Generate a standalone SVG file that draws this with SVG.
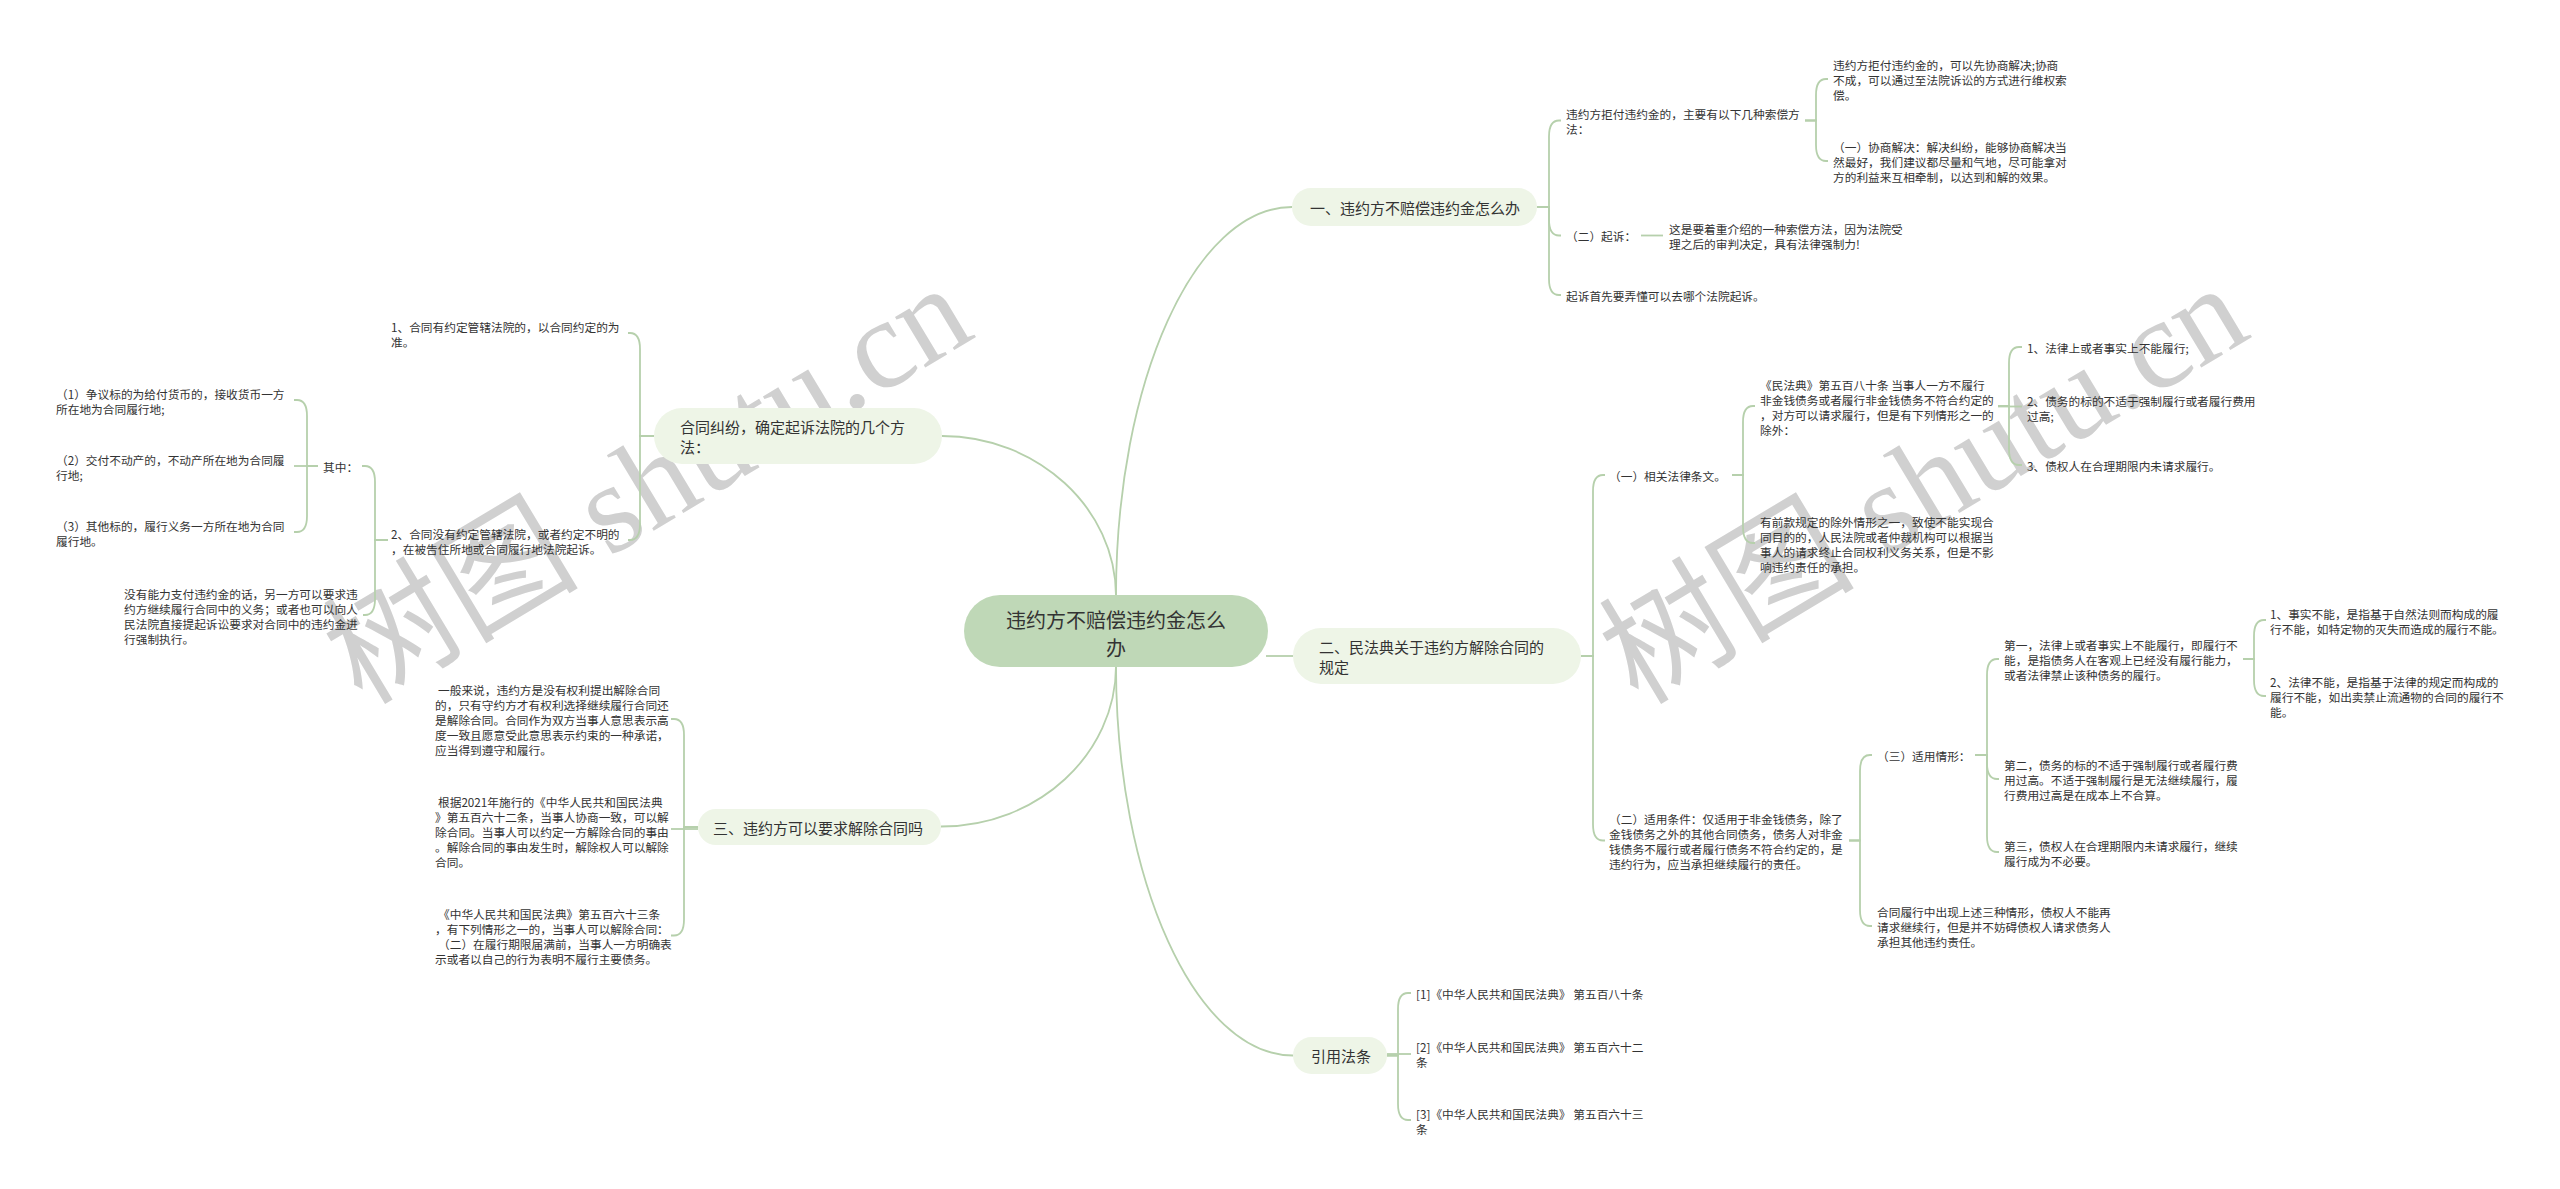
<svg xmlns="http://www.w3.org/2000/svg" width="2560" height="1189" viewBox="0 0 2560 1189">
<style>
text{font-family:"Noto Sans CJK SC","Noto Sans",sans-serif;fill:#333;dominant-baseline:central}
.t12{font-size:11.7px}
.t15{font-size:15px}
.t20{font-size:20px}
.root{fill:#bfd8b7}
.br{fill:#eef5e7}
.lk{fill:none;stroke:#b6d0ac;stroke-width:1.8}
.wm{font-family:"Liberation Serif","Noto Sans CJK SC",serif;font-size:128px;fill:#d0d0d0;dominant-baseline:alphabetic}
</style>
<rect width="2560" height="1189" fill="#ffffff"/>
<g id="watermark">
<text class="wm" transform="translate(362,706) rotate(-31)">树图 shutu.cn</text>
<text class="wm" transform="translate(1638,706) rotate(-31)">树图 shutu.cn</text>
</g>
<g id="connectors">
<path class="lk" d="M1116 596 C1116 381 1195 207 1292 207"/>
<path class="lk" d="M1116 596 C1116 508 1037 436 942 436"/>
<path class="lk" d="M1116 666 C1116 754 1038 826.5 941 826.5"/>
<path class="lk" d="M1116 666 C1116 881 1196 1055.5 1293 1055.5"/>
<path class="lk" d="M1266 656 H1293"/>
<path class="lk" d="M1537 207 H1549 V136.5 Q1549 120.5 1559 120.5 H1561"/>
<path class="lk" d="M1537 207 H1549 V219.5 Q1549 235.5 1559 235.5 H1561"/>
<path class="lk" d="M1537 207 H1549 V279 Q1549 295 1559 295 H1561"/>
<path class="lk" d="M1805 120.5 H1816 V95 Q1816 79 1826 79 H1828"/>
<path class="lk" d="M1805 120.5 H1816 V145 Q1816 161 1826 161 H1828"/>
<path class="lk" d="M1641 235.5 H1663"/>
<path class="lk" d="M1581 656 H1593 V491 Q1593 475 1603 475 H1605"/>
<path class="lk" d="M1581 656 H1593 V824.5 Q1593 840.5 1603 840.5 H1605"/>
<path class="lk" d="M1732 475 H1743 V422 Q1743 406 1753 406 H1755"/>
<path class="lk" d="M1732 475 H1743 V527 Q1743 543 1753 543 H1755"/>
<path class="lk" d="M1998 406 H2009 V363 Q2009 347 2019 347 H2022"/>
<path class="lk" d="M1998 406.5 H2022"/>
<path class="lk" d="M1998 406 H2009 V449 Q2009 465 2019 465 H2022"/>
<path class="lk" d="M1849 840.5 H1860 V771 Q1860 755 1870 755 H1872"/>
<path class="lk" d="M1849 840.5 H1860 V910 Q1860 926 1870 926 H1872"/>
<path class="lk" d="M1975 755 H1987 V675 Q1987 659 1997 659 H1999"/>
<path class="lk" d="M1975 755 H1987 V763 Q1987 779 1997 779 H1999"/>
<path class="lk" d="M1975 755 H1987 V836 Q1987 852 1997 852 H1999"/>
<path class="lk" d="M2243 659 H2254 V636 Q2254 620 2264 620 H2266"/>
<path class="lk" d="M2243 659 H2254 V680 Q2254 696 2264 696 H2266"/>
<path class="lk" d="M1387 1055.5 H1398 V1009 Q1398 993 1408 993 H1411"/>
<path class="lk" d="M1387 1054 H1411"/>
<path class="lk" d="M1387 1055.5 H1398 V1104 Q1398 1120 1408 1120 H1411"/>
<path class="lk" d="M654 436 H640 V349 Q640 333 630 333 H628"/>
<path class="lk" d="M654 436 H640 V524 Q640 540 630 540 H628"/>
<path class="lk" d="M388 540 H375 V482 Q375 466 365 466 H362"/>
<path class="lk" d="M388 540 H375 V599 Q375 615 365 615 H363"/>
<path class="lk" d="M318 466 H307 V416 Q307 400 297 400 H294"/>
<path class="lk" d="M318 466 H294"/>
<path class="lk" d="M318 466 H307 V516 Q307 532 297 532 H294"/>
<path class="lk" d="M698 827 H684 V735 Q684 719 674 719 H671"/>
<path class="lk" d="M698 829 H671"/>
<path class="lk" d="M698 827 H684 V919.5 Q684 935.5 674 935.5 H671"/>
</g>
<g id="n-root">
<rect class="root" x="964" y="595" width="304" height="72" rx="36"/>
<text class="t20" text-anchor="middle"><tspan x="1116" y="619">违约方不赔偿违约金怎么</tspan><tspan x="1116" y="647">办</tspan></text>
</g>
<g id="n-b1">
<rect class="br" x="1292" y="188" width="245" height="38" rx="19"/>
<text class="t15" x="1310" y="207">一、违约方不赔偿违约金怎么办</text>
</g>
<g id="n-b2">
<rect class="br" x="1293" y="628" width="288" height="56" rx="28"/>
<text class="t15"><tspan x="1319" y="646">二、民法典关于违约方解除合同的</tspan><tspan x="1319" y="666">规定</tspan></text>
</g>
<g id="n-b3">
<rect class="br" x="654" y="408" width="288" height="56" rx="28"/>
<text class="t15"><tspan x="680" y="426">合同纠纷，确定起诉法院的几个方</tspan><tspan x="680" y="446">法：</tspan></text>
</g>
<g id="n-b4">
<rect class="br" x="698" y="809" width="243" height="36" rx="18"/>
<text class="t15" x="713" y="827">三、违约方可以要求解除合同吗</text>
</g>
<g id="n-b5">
<rect class="br" x="1293" y="1037" width="94" height="37" rx="18.5"/>
<text class="t15" x="1311" y="1055.5">引用法条</text>
</g>
<g id="n-c1"><text class="t12"><tspan x="1566" y="113">违约方拒付违约金的，主要有以下几种索偿方</tspan><tspan x="1566" y="128">法：</tspan></text></g>
<g id="n-c1a"><text class="t12"><tspan x="1833" y="64">违约方拒付违约金的，可以先协商解决;协商</tspan><tspan x="1833" y="79">不成，可以通过至法院诉讼的方式进行维权索</tspan><tspan x="1833" y="94">偿。</tspan></text></g>
<g id="n-c1b"><text class="t12"><tspan x="1833" y="146">（一）协商解决：解决纠纷，能够协商解决当</tspan><tspan x="1833" y="161">然最好，我们建议都尽量和气地，尽可能拿对</tspan><tspan x="1833" y="176">方的利益来互相牵制，以达到和解的效果。</tspan></text></g>
<g id="n-c2"><text class="t12" x="1566" y="235.5">（二）起诉：</text></g>
<g id="n-c2a"><text class="t12"><tspan x="1669" y="228">这是要着重介绍的一种索偿方法，因为法院受</tspan><tspan x="1669" y="243">理之后的审判决定，具有法律强制力!</tspan></text></g>
<g id="n-c3"><text class="t12" x="1566" y="295">起诉首先要弄懂可以去哪个法院起诉。</text></g>
<g id="n-d1"><text class="t12" x="1609" y="475">（一）相关法律条文。</text></g>
<g id="n-d1a"><text class="t12"><tspan x="1760" y="383.5">《民法典》第五百八十条 当事人一方不履行</tspan><tspan x="1760" y="398.5">非金钱债务或者履行非金钱债务不符合约定的</tspan><tspan x="1760" y="413.5">，对方可以请求履行，但是有下列情形之一的</tspan><tspan x="1760" y="428.5">除外：</tspan></text></g>
<g id="n-d1b"><text class="t12"><tspan x="1760" y="520.5">有前款规定的除外情形之一，致使不能实现合</tspan><tspan x="1760" y="535.5">同目的的，人民法院或者仲裁机构可以根据当</tspan><tspan x="1760" y="550.5">事人的请求终止合同权利义务关系，但是不影</tspan><tspan x="1760" y="565.5">响违约责任的承担。</tspan></text></g>
<g id="n-e1"><text class="t12" x="2027" y="347">1、法律上或者事实上不能履行;</text></g>
<g id="n-e2"><text class="t12"><tspan x="2027" y="399.5">2、债务的标的不适于强制履行或者履行费用</tspan><tspan x="2027" y="414.5">过高;</tspan></text></g>
<g id="n-e3"><text class="t12" x="2027" y="465">3、债权人在合理期限内未请求履行。</text></g>
<g id="n-d2"><text class="t12"><tspan x="1609" y="818">（二）适用条件：仅适用于非金钱债务，除了</tspan><tspan x="1609" y="833">金钱债务之外的其他合同债务，债务人对非金</tspan><tspan x="1609" y="848">钱债务不履行或者履行债务不符合约定的，是</tspan><tspan x="1609" y="863">违约行为，应当承担继续履行的责任。</tspan></text></g>
<g id="n-d2a"><text class="t12" x="1877" y="755">（三）适用情形：</text></g>
<g id="n-d2b"><text class="t12"><tspan x="1877" y="911">合同履行中出现上述三种情形，债权人不能再</tspan><tspan x="1877" y="926">请求继续行，但是并不妨碍债权人请求债务人</tspan><tspan x="1877" y="941">承担其他违约责任。</tspan></text></g>
<g id="n-f1"><text class="t12"><tspan x="2004" y="644">第一，法律上或者事实上不能履行，即履行不</tspan><tspan x="2004" y="659">能，是指债务人在客观上已经没有履行能力，</tspan><tspan x="2004" y="674">或者法律禁止该种债务的履行。</tspan></text></g>
<g id="n-f2"><text class="t12"><tspan x="2004" y="764">第二，债务的标的不适于强制履行或者履行费</tspan><tspan x="2004" y="779">用过高。不适于强制履行是无法继续履行，履</tspan><tspan x="2004" y="794">行费用过高是在成本上不合算。</tspan></text></g>
<g id="n-f3"><text class="t12"><tspan x="2004" y="844.5">第三，债权人在合理期限内未请求履行，继续</tspan><tspan x="2004" y="859.5">履行成为不必要。</tspan></text></g>
<g id="n-h1"><text class="t12"><tspan x="2270" y="612.5">1、事实不能，是指基于自然法则而构成的履</tspan><tspan x="2270" y="627.5">行不能，如特定物的灭失而造成的履行不能。</tspan></text></g>
<g id="n-h2"><text class="t12"><tspan x="2270" y="681">2、法律不能，是指基于法律的规定而构成的</tspan><tspan x="2270" y="696">履行不能，如出卖禁止流通物的合同的履行不</tspan><tspan x="2270" y="711">能。</tspan></text></g>
<g id="n-r1"><text class="t12" x="1416" y="993">[1]《中华人民共和国民法典》 第五百八十条</text></g>
<g id="n-r2"><text class="t12"><tspan x="1416" y="1045.5">[2]《中华人民共和国民法典》 第五百六十二</tspan><tspan x="1416" y="1060.5">条</tspan></text></g>
<g id="n-r3"><text class="t12"><tspan x="1416" y="1112.5">[3]《中华人民共和国民法典》 第五百六十三</tspan><tspan x="1416" y="1127.5">条</tspan></text></g>
<g id="n-k1"><text class="t12"><tspan x="391" y="325.5">1、合同有约定管辖法院的，以合同约定的为</tspan><tspan x="391" y="340.5">准。</tspan></text></g>
<g id="n-k2"><text class="t12"><tspan x="391" y="532.5">2、合同没有约定管辖法院，或者约定不明的</tspan><tspan x="391" y="547.5">，在被告住所地或合同履行地法院起诉。</tspan></text></g>
<g id="n-k2a"><text class="t12" x="323" y="466">其中：</text></g>
<g id="n-k2b"><text class="t12"><tspan x="124" y="592.5">没有能力支付违约金的话，另一方可以要求违</tspan><tspan x="124" y="607.5">约方继续履行合同中的义务；或者也可以向人</tspan><tspan x="124" y="622.5">民法院直接提起诉讼要求对合同中的违约金进</tspan><tspan x="124" y="637.5">行强制执行。</tspan></text></g>
<g id="n-q1"><text class="t12"><tspan x="56" y="392.5">（1）争议标的为给付货币的，接收货币一方</tspan><tspan x="56" y="407.5">所在地为合同履行地;</tspan></text></g>
<g id="n-q2"><text class="t12"><tspan x="56" y="458.5">（2）交付不动产的，不动产所在地为合同履</tspan><tspan x="56" y="473.5">行地;</tspan></text></g>
<g id="n-q3"><text class="t12"><tspan x="56" y="524.5">（3）其他标的，履行义务一方所在地为合同</tspan><tspan x="56" y="539.5">履行地。</tspan></text></g>
<g id="n-g1"><text class="t12"><tspan x="438" y="689">一般来说，违约方是没有权利提出解除合同</tspan><tspan x="435" y="704">的，只有守约方才有权利选择继续履行合同还</tspan><tspan x="435" y="719">是解除合同。合同作为双方当事人意思表示高</tspan><tspan x="435" y="734">度一致且愿意受此意思表示约束的一种承诺，</tspan><tspan x="435" y="749">应当得到遵守和履行。</tspan></text></g>
<g id="n-g2"><text class="t12"><tspan x="438" y="801">根据2021年施行的《中华人民共和国民法典</tspan><tspan x="435" y="816">》第五百六十二条，当事人协商一致，可以解</tspan><tspan x="435" y="831">除合同。当事人可以约定一方解除合同的事由</tspan><tspan x="435" y="846">。解除合同的事由发生时，解除权人可以解除</tspan><tspan x="435" y="861">合同。</tspan></text></g>
<g id="n-g3"><text class="t12"><tspan x="438" y="913">《中华人民共和国民法典》第五百六十三条</tspan><tspan x="435" y="928">，有下列情形之一的，当事人可以解除合同：</tspan><tspan x="438" y="943">（二）在履行期限届满前，当事人一方明确表</tspan><tspan x="435" y="958">示或者以自己的行为表明不履行主要债务。</tspan></text></g>
</svg>
